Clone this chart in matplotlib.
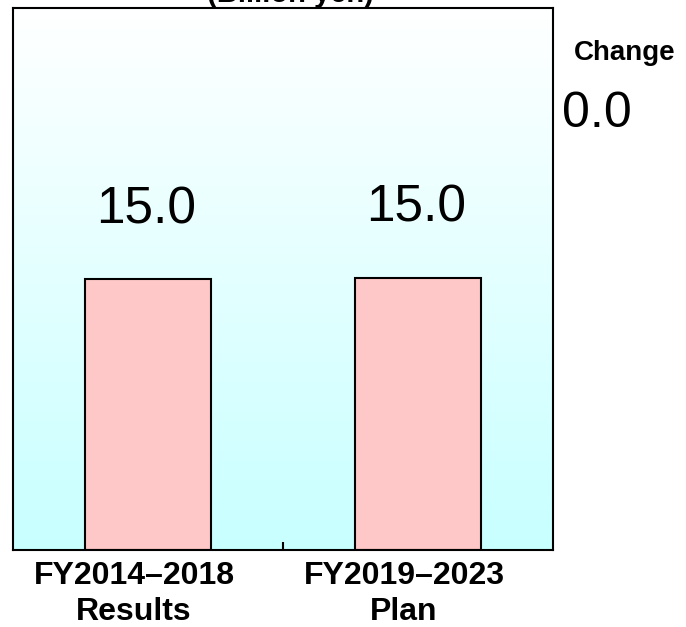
import numpy as np
import matplotlib.pyplot as plt
from matplotlib.colors import LinearSegmentedColormap
from matplotlib.transforms import ScaledTranslation

categories = ['FY2014–2018\nResults', 'FY2019–2023\nPlan']
values = [15.0, 15.08]
labels = ['15.0', '15.0']
change_label = '0.0'

SANS = ['Liberation Sans', 'DejaVu Sans']

fig = plt.figure(figsize=(6.86, 6.27), dpi=100)
ax = fig.add_axes([13/686, 77/627, 540/686, 542/627])

# background gradient white -> light cyan
cmap = LinearSegmentedColormap.from_list('bg', ['#FFFFFF', '#C8FFFF'])
grad = np.linspace(0, 1, 256).reshape(-1, 1)
ax.imshow(grad, cmap=cmap, aspect='auto', extent=[0, 1, 0, 1],
          transform=ax.transAxes, zorder=0)

x = np.arange(len(categories))
ax.bar(x, values, width=0.47, color='#FFC8C8', edgecolor='black', linewidth=1.5, zorder=2)
for xi, v, lab in zip(x, values, labels):
    ax.annotate(lab, (xi, v), xytext=(-1, 40), textcoords='offset points',
                ha='center', va='baseline', fontsize=37, family=SANS)

ax.set_xlim(-0.5, 1.5)
ax.set_ylim(0, 30)
ax.set_yticks([])
ax.set_xticks(x)
ax.set_xticklabels(categories, fontsize=23, fontweight='bold', family=SANS,
                   linespacing=1.25)
ax.tick_params(axis='x', length=0, pad=8)
shift = ScaledTranslation(-14/100, 0, fig.dpi_scale_trans)
for t in ax.get_xticklabels():
    t.set_transform(t.get_transform() + shift)
ax.set_xticks([0.5], minor=True)
ax.tick_params(axis='x', which='minor', direction='in', length=6, width=1.5)
for s in ax.spines.values():
    s.set_linewidth(1.5)

fig.text(290/686, 1 - 8/627, '(Billion yen)', ha='center', va='bottom',
         fontsize=21, fontweight='bold', family=SANS)
fig.text(625/686, 1 - 60/627, 'Change', ha='center', va='baseline',
         fontsize=20, fontweight='bold', family=SANS)
fig.text(597/686, 1 - 127/627, change_label, ha='center', va='baseline',
         fontsize=36, family=SANS)

fig.savefig('out.png', dpi=100)
